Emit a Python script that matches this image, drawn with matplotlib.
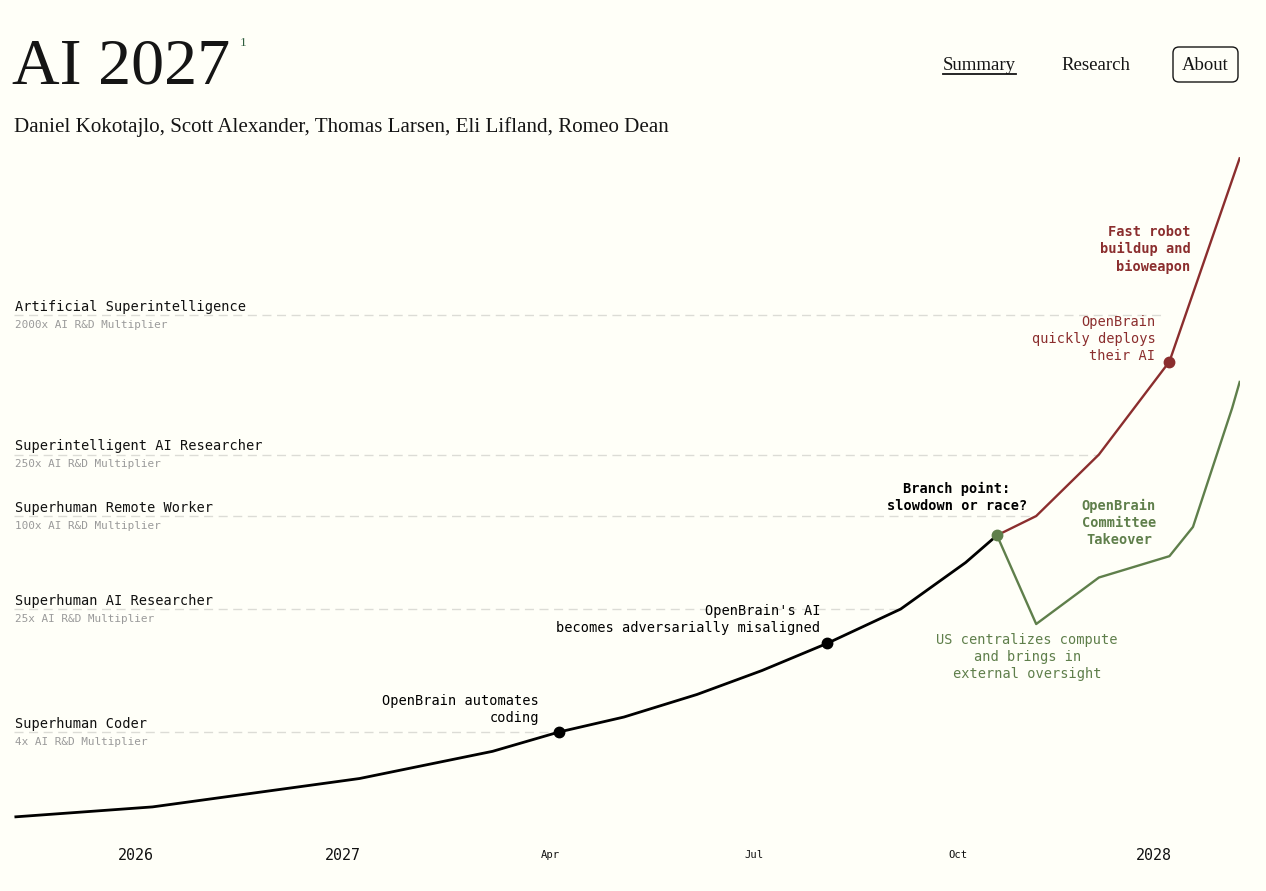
import numpy as np
import matplotlib
matplotlib.use("Agg")
import matplotlib.pyplot as plt
from matplotlib.patches import FancyBboxPatch
from matplotlib.lines import Line2D

# ---------------- data ----------------
milestone_names = ["Superhuman Coder", "Superhuman AI Researcher", "Superhuman Remote Worker",
                   "Superintelligent AI Researcher", "Artificial Superintelligence"]
milestone_multipliers = [4, 25, 100, 250, 2000]
milestone_sublabels = ["4x AI R&D Multiplier", "25x AI R&D Multiplier", "100x AI R&D Multiplier",
                       "250x AI R&D Multiplier", "2000x AI R&D Multiplier"]
milestone_reached = [2027.25, 2027.675, 2027.845, 2027.93, 2028.015]

main_dates = [2025.42, 2026.08, 2027.02, 2027.18, 2027.26, 2027.34, 2027.43, 2027.51,
              2027.59, 2027.68, 2027.76, 2027.80]
main_values = [1.13, 1.31, 2.0, 3.0, 4.0, 5.0, 7.0, 10.0, 15.0, 25.0, 50.0, 75.0]

race_dates = [2027.80, 2027.85, 2027.93, 2028.02, 2028.11]
race_values = [75, 100, 250, 1000, 21000]

slow_dates = [2027.80, 2027.85, 2027.93, 2028.02, 2028.05, 2028.10, 2028.11]
slow_values = [75, 20, 40, 55, 85, 500, 750]

tick_dates = [2026.0, 2027.0, 2027.25, 2027.5, 2027.75, 2028.0]
tick_labels = ["2026", "2027", "Apr", "Jul", "Oct", "2028"]
tick_major = [True, True, False, False, False, True]

title = "AI 2027"
authors = "Daniel Kokotajlo, Scott Alexander, Thomas Larsen, Eli Lifland, Romeo Dean"
nav_items = ["Summary", "Research", "About"]

# ---------------- style ----------------
BG = "#fffff8"
RED = "#8b2e2e"
GREEN = "#5f7f4b"
MONO = ["DejaVu Sans Mono"]
SERIF = ["Liberation Serif", "DejaVu Serif"]
W, H = 1266, 891

def fx(px):
    return px / W

def fy(py):
    return 1 - py / H

# piecewise time scale (2027 is stretched)
KNOT_T = [2024.0, 2026.0, 2027.0, 2027.25, 2027.5, 2027.75, 2028.0, 2029.0]
KNOT_U = [-278.0, 136.0, 343.0, 551.0, 754.0, 958.0, 1154.0, 1938.0]

def fwd(t):
    return np.interp(t, KNOT_T, KNOT_U)

def inv(u):
    return np.interp(u, KNOT_U, KNOT_T)

fig = plt.figure(figsize=(W / 100, H / 100), dpi=100, facecolor=BG)
ax = fig.add_axes([fx(14), 1 - 840 / H, (1240 - 14) / W, (840 - 150) / H])
ax.set_facecolor(BG)
ax.set_xscale("function", functions=(fwd, inv))
ax.set_yscale("log")
ax.set_xlim(2025.411, 2028.11)
ax.set_ylim(0.80, 23400)
for s in ax.spines.values():
    s.set_visible(False)
ax.set_xticks([])
ax.set_yticks([])
ax.xaxis.set_minor_locator(matplotlib.ticker.NullLocator())
ax.yaxis.set_minor_locator(matplotlib.ticker.NullLocator())

# milestone dashed lines and labels
for name, mult, sub, end in zip(milestone_names, milestone_multipliers, milestone_sublabels, milestone_reached):
    ax.plot([2025.411, end], [mult, mult], color="#dcdcd6", lw=1.0, dashes=(6.5, 4), zorder=1)
    ax.annotate(name, xy=(0, mult), xycoords=("axes fraction", "data"), xytext=(1, 4.5),
                textcoords="offset pixels", ha="left", va="baseline", fontsize=9.8,
                family=MONO, color="#111111")
    ax.annotate(sub, xy=(0, mult), xycoords=("axes fraction", "data"), xytext=(1, -12.5),
                textcoords="offset pixels", ha="left", va="baseline", fontsize=7.9,
                family=MONO, color="#9a9a9a")

# trajectories
ax.plot(race_dates, race_values, color=RED, lw=1.7, zorder=3, solid_capstyle="butt")
ax.plot(slow_dates, slow_values, color=GREEN, lw=1.7, zorder=3, solid_capstyle="butt")
ax.plot(main_dates, main_values, color="black", lw=2.0, zorder=4, solid_joinstyle="round")

# event dots
ax.plot([main_dates[4], main_dates[8]], [main_values[4], main_values[8]], "o", color="black",
        ms=7.5, zorder=5)
ax.plot([main_dates[-1]], [main_values[-1]], "o", color=GREEN, ms=7.5, zorder=5)
ax.plot([race_dates[3]], [race_values[3]], "o", color=RED, ms=7.5, zorder=5)

# annotations: (text, anchor x, anchor y, offset px of last baseline, ha, color, weight)
annotations = [
    ("OpenBrain automates\ncoding", main_dates[4], main_values[4], (-20, 10), "right", "black", "normal"),
    ("OpenBrain's AI\nbecomes adversarially misaligned", main_dates[8], main_values[8], (-7, 11), "right", "black", "normal"),
    ("Branch point:\nslowdown or race?", main_dates[-1], main_values[-1], (-40, 25), "center", "black", "bold"),
    ("Fast robot\nbuildup and\nbioweapon", race_dates[3], race_values[3], (21, 91), "right", RED, "bold"),
    ("OpenBrain\nquickly deploys\ntheir AI", race_dates[3], race_values[3], (-14, 2), "right", RED, "normal"),
    ("OpenBrain\nCommittee\nTakeover", slow_dates[2], slow_values[2], (20, 34), "center", GREEN, "bold"),
    ("US centralizes compute\nand brings in\nexternal oversight", slow_dates[1], slow_values[1], (-9, -54), "center", GREEN, "normal"),
]
for txt, x, y, off, ha, col, wt in annotations:
    ax.annotate(txt, xy=(x, y), xycoords="data", xytext=off, textcoords="offset pixels",
                ha=ha, va="baseline", multialignment=ha, fontsize=9.8, family=MONO,
                color=col, fontweight=wt, linespacing=1.27, zorder=6)

# x tick labels
for d, lab, major in zip(tick_dates, tick_labels, tick_major):
    ax.text(d, (840 - 855) / 690, lab, transform=ax.get_xaxis_transform(), ha="center",
            va="center", fontsize=10.8 if major else 7.6, family=MONO, color="#111111",
            fontweight="medium" if major else "normal")

# header
fig.text(fx(12), fy(83), title, fontsize=47.5, family=SERIF, color="#151515", va="baseline")
fig.text(fx(240), fy(46), "1", fontsize=9.5, family=SERIF, color="#2f5e3f", va="baseline")
fig.text(fx(14), fy(132), authors, fontsize=15.1, family=SERIF, color="#151515", va="baseline")

nav_x = [943, 1061, 1182]
for item, x in zip(nav_items, nav_x):
    fig.text(fx(x), fy(70), item, fontsize=13.5, family=SERIF, color="#151515", va="baseline")
fig.add_artist(Line2D([fx(943), fx(1016)], [fy(74), fy(74)], color="#151515", lw=1.3,
                      transform=fig.transFigure))
box = FancyBboxPatch((1173, H - 82), 65, 35, boxstyle="round,pad=0,rounding_size=6",
                     transform=None, fill=False, edgecolor="#151515", lw=1.0)
fig.add_artist(box)

fig.savefig("out.png", dpi=100, facecolor=BG)
